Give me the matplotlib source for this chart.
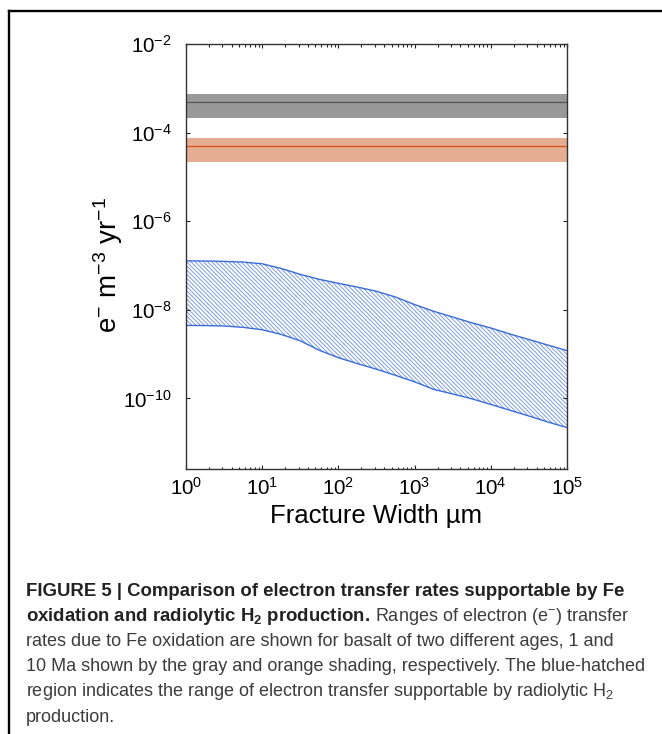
import math
import matplotlib
matplotlib.use('Agg')
import matplotlib.pyplot as plt
from matplotlib.lines import Line2D
from matplotlib.ticker import FixedLocator, FuncFormatter, LogLocator, NullLocator, NullFormatter

plt.rcParams['font.family'] = ['Liberation Sans', 'DejaVu Sans']
plt.rcParams['mathtext.fontset'] = 'custom'
plt.rcParams['mathtext.rm'] = 'Liberation Sans'
plt.rcParams['mathtext.it'] = 'Liberation Sans:italic'
plt.rcParams['mathtext.bf'] = 'Liberation Sans:bold'
plt.rcParams['hatch.linewidth'] = 0.7

# ---------------- data ----------------
fracture_width = [1, 1.78, 3.16, 5.62, 10, 17.8, 31.6, 56.2, 100, 178, 316, 562,
                  1000, 1778, 3162, 5623, 10000, 17783, 31623, 56234, 100000]
radiolytic_upper = [1.28e-7, 1.27e-7, 1.245e-7, 1.20e-7, 1.10e-7, 8.6e-8, 6.35e-8,
                    4.9e-8, 3.98e-8, 3.27e-8, 2.63e-8, 1.95e-8, 1.32e-8, 9.3e-9,
                    6.9e-9, 5.1e-9, 3.9e-9, 2.85e-9, 2.14e-9, 1.60e-9, 1.20e-9]
radiolytic_lower = [4.45e-9, 4.42e-9, 4.32e-9, 4.03e-9, 3.55e-9, 2.79e-9, 2.0e-9,
                    1.22e-9, 8.3e-10, 6.1e-10, 4.57e-10, 3.31e-10, 2.37e-10,
                    1.60e-10, 1.26e-10, 9.8e-11, 7.3e-11, 5.4e-11, 4.0e-11,
                    2.92e-11, 2.19e-11]

band_x = [1, 1e5]
fe_1ma_low, fe_1ma_mid, fe_1ma_high = 2.2e-4, 4.9e-4, 7.6e-4
fe_10ma_low, fe_10ma_mid, fe_10ma_high = 2.2e-5, 5.0e-5, 7.8e-5

x_ticks = [1e0, 1e1, 1e2, 1e3, 1e4, 1e5]
y_ticks = [1e-10, 1e-8, 1e-6, 1e-4, 1e-2]

caption_line1 = "FIGURE 5 | Comparison of electron transfer rates supportable by Fe"
caption_line2_bold = r"oxidation and radiolytic H$_\mathbf{2}$ production."
caption_line2_reg = r"Ranges of electron (e$^{-}$) transfer"
caption_rest = [
    "rates due to Fe oxidation are shown for basalt of two different ages, 1 and",
    "10 Ma shown by the gray and orange shading, respectively. The blue-hatched",
    r"region indicates the range of electron transfer supportable by radiolytic H$_2$",
    "production.",
]

# ---------------- figure ----------------
W, H = 662, 734
fig = plt.figure(figsize=(W / 100, H / 100), dpi=100)
fig.patch.set_facecolor('white')

ax_l, ax_r, ax_t, ax_b = 186, 567, 44.3, 469.3
ax = fig.add_axes([ax_l / W, 1 - ax_b / H, (ax_r - ax_l) / W, (ax_b - ax_t) / H])

# Fe oxidation bands
ax.fill_between(band_x, [fe_1ma_low] * 2, [fe_1ma_high] * 2, color='#999999', lw=0)
ax.plot(band_x, [fe_1ma_mid] * 2, color='#555555', lw=0.9)
ax.fill_between(band_x, [fe_10ma_low] * 2, [fe_10ma_high] * 2, color='#E5AD92', lw=0)
ax.plot(band_x, [fe_10ma_mid] * 2, color='#D95319', lw=0.9)

# radiolytic H2 band (hatched)
ax.fill_between(fracture_width, radiolytic_lower, radiolytic_upper,
                facecolor='none', edgecolor='#7C9CE4', hatch='\\\\\\\\\\\\\\\\', lw=0)
ax.plot(fracture_width, radiolytic_upper, color='#3B6CD6', lw=1.0)
ax.plot(fracture_width, radiolytic_lower, color='#3B6CD6', lw=1.0)

ax.set_xscale('log')
ax.set_yscale('log')
ax.set_xlim(1, 1e5)
ax.set_ylim(2.5e-12, 1e-2)

ax.xaxis.set_major_locator(FixedLocator(x_ticks))
ax.xaxis.set_minor_locator(LogLocator(base=10, subs=range(2, 10)))
ax.xaxis.set_minor_formatter(NullFormatter())
ax.yaxis.set_major_locator(FixedLocator(y_ticks))
ax.yaxis.set_minor_locator(NullLocator())

fmt = FuncFormatter(lambda v, p: r'$10^{%d}$' % round(math.log10(v)))
ax.xaxis.set_major_formatter(fmt)
ax.yaxis.set_major_formatter(fmt)

ax.tick_params(which='both', direction='in', top=True, right=True,
               color='#222222', width=0.8)
ax.tick_params(which='major', length=3.2, labelsize=14.8)
ax.tick_params(which='minor', length=1.8)
ax.tick_params(axis='y', pad=10)
ax.tick_params(axis='x', pad=5.5)

for s in ax.spines.values():
    s.set_color('#333333')
    s.set_linewidth(1.0)

ax.set_xlabel('Fracture Width µm', fontsize=18.5)
ax.xaxis.set_label_coords(0.5, (ax_b - 504) / (ax_b - ax_t))
ax.set_ylabel(r'e$^{-}$ m$^{-3}$ yr$^{-1}$', fontsize=20)
ax.yaxis.set_label_coords((125 - ax_l) / (ax_r - ax_l), (ax_b - 265) / (ax_b - ax_t))

# frame lines
fig.add_artist(Line2D([8.5 / W, 1], [1 - 11 / H] * 2, transform=fig.transFigure,
                      color='black', lw=1.7))
fig.add_artist(Line2D([8.8 / W] * 2, [0, 1 - 11 / H], transform=fig.transFigure,
                      color='black', lw=1.7))

# caption
fs_bold = 13.4
fs_reg = 13.0
cx = 26 / W
base0 = 595.7
dy = 25.2
bold_col = '#222222'
reg_col = '#3c3c3c'
fig.text(cx, 1 - base0 / H, caption_line1, fontsize=fs_bold, fontweight='bold',
         color=bold_col, va='baseline', ha='left')
t2 = fig.text(cx, 1 - (base0 + dy) / H, caption_line2_bold, fontsize=fs_bold,
              fontweight='bold', color=bold_col, va='baseline', ha='left')
renderer = fig.canvas.get_renderer()
bb = t2.get_window_extent(renderer)
gap = 0.3 * fs_reg * 100 / 72
fig.text((bb.x1 + gap) / W, 1 - (base0 + dy) / H, caption_line2_reg,
         fontsize=fs_reg, color=reg_col, va='baseline', ha='left')
for i, line in enumerate(caption_rest):
    fig.text(cx, 1 - (base0 + dy * (i + 2)) / H, line, fontsize=fs_reg,
             color=reg_col, va='baseline', ha='left')

fig.savefig('out.png', dpi=100)
